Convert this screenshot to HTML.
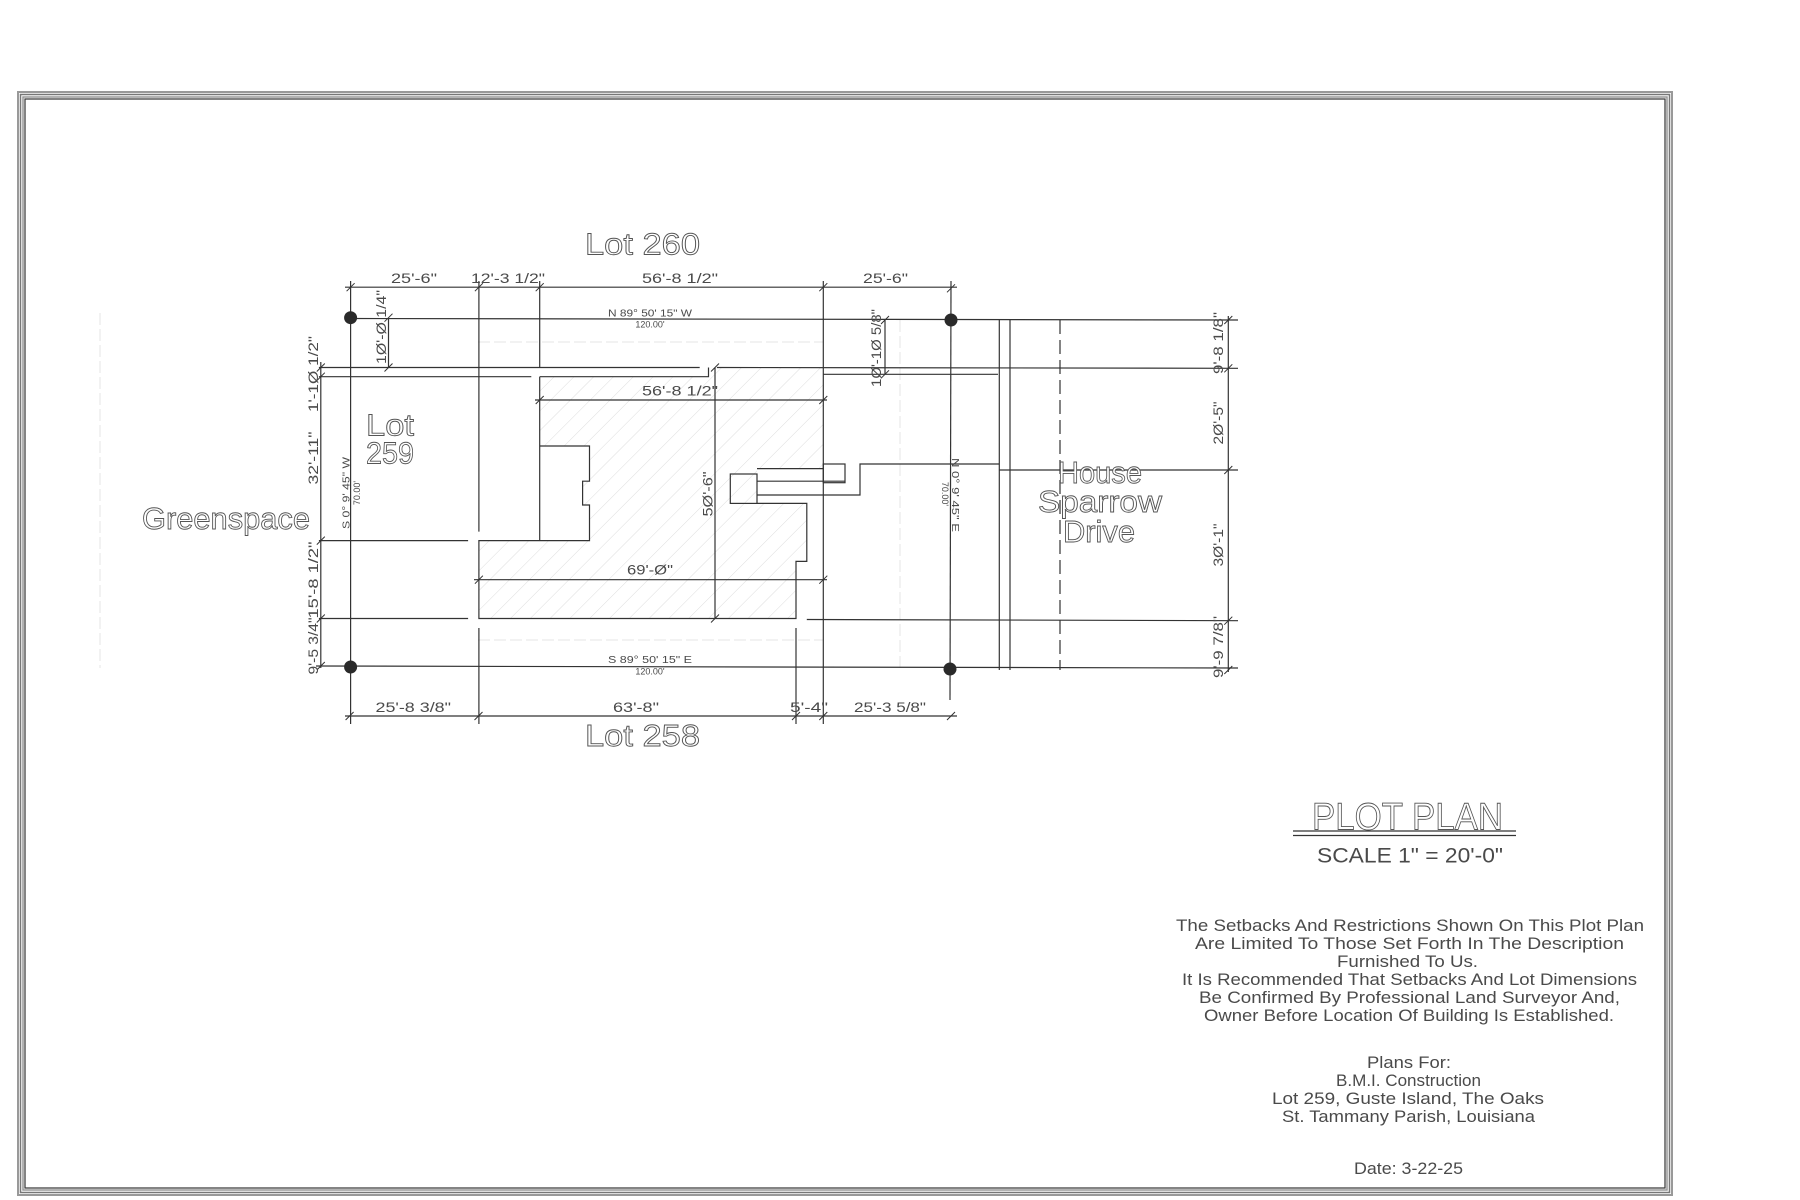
<!DOCTYPE html>
<html><head><meta charset="utf-8"><style>
html,body{margin:0;padding:0;background:#fff;}
svg{display:block;}
text{font-family:"Liberation Sans",sans-serif;fill:#4a4a4a;}
.big{fill:#fff;stroke:#555;stroke-width:0.9;}
</style></head><body>
<svg width="1800" height="1200" viewBox="0 0 1800 1200" xmlns="http://www.w3.org/2000/svg">
<defs>
<pattern id="hatch" width="14" height="14" patternUnits="userSpaceOnUse" patternTransform="rotate(45)">
<line x1="0" y1="0" x2="0" y2="14" stroke="#ddd" stroke-width="1"/>
</pattern>
</defs>
<!-- frame -->
<rect x="18" y="92" width="1654" height="1103" fill="none" stroke="#999" stroke-width="2"/>
<rect x="20.5" y="94.5" width="1649" height="1098" fill="none" stroke="#777" stroke-width="1.5"/>
<rect x="23" y="97" width="1644" height="1093" fill="none" stroke="#999" stroke-width="1.5"/>
<rect x="25" y="99" width="1640" height="1089" fill="none" stroke="#333" stroke-width="1.2"/>

<g stroke="#e4e4e4" stroke-width="1" fill="none" stroke-dasharray="12 4">
<line x1="100" y1="313" x2="100" y2="668"/>
<line x1="478" y1="342" x2="823" y2="342"/>
<line x1="478" y1="640" x2="823" y2="640"/>
<line x1="900" y1="320" x2="900" y2="668"/>
</g>

<polygon points="539.7,376.7 708.5,376.7 708.5,367.5 823.3,367.5 823.3,468.6 757,468.6 757,503.4 806.8,503.4 806.8,561.4 796,561.4 796,618.5 478.9,618.5 478.9,540.6 589.5,540.6 589.5,505 582.6,505 582.6,481.2 589.5,481.2 589.5,446 539.7,446" fill="url(#hatch)" stroke="none"/>

<g stroke="#333" stroke-width="1.2" fill="none">
<polyline points="539.7,376.7 708.5,376.7 708.5,367.5"/>
<polyline points="757,503.4 806.8,503.4 806.8,561.4 796,561.4 796,618.5 478.9,618.5 478.9,540.6 589.5,540.6 589.5,505 582.6,505 582.6,481.2 589.5,481.2 589.5,446 539.7,446"/>
<line x1="539.7" y1="376.7" x2="539.7" y2="540.6"/>
<rect x="730.3" y="474" width="26.7" height="29.4"/>
<line x1="757" y1="468.6" x2="823.3" y2="468.6"/>
<line x1="757" y1="481.2" x2="845" y2="481.2"/>
<rect x="823.3" y="464" width="21.7" height="18.7"/>
<polyline points="757,495 860,495 860,464 999,464"/>

<line x1="345" y1="287.2" x2="957" y2="287.2"/>
<line x1="350" y1="318.5" x2="1238" y2="320"/>
<line x1="318.9" y1="367.5" x2="699.7" y2="367.5"/>
<line x1="716.9" y1="367.5" x2="1238" y2="368.3"/>
<line x1="318.9" y1="376.7" x2="531.3" y2="376.7"/>
<line x1="823.3" y1="374.3" x2="998" y2="374.3"/>
<line x1="535" y1="400" x2="827" y2="400"/>
<line x1="999" y1="470" x2="1238" y2="470"/>
<line x1="318.9" y1="540.6" x2="468.1" y2="540.6"/>
<line x1="474" y1="579.7" x2="827" y2="579.7"/>
<line x1="318.9" y1="618.5" x2="468.1" y2="618.5"/>
<line x1="806.8" y1="619.5" x2="1238" y2="620.7"/>
<line x1="316" y1="666" x2="1238" y2="668"/>
<line x1="345" y1="716" x2="957" y2="716"/>

<line x1="350.6" y1="281" x2="350.6" y2="724"/>
<line x1="478.9" y1="281" x2="478.9" y2="531.6"/>
<line x1="478.9" y1="628" x2="478.9" y2="724"/>
<line x1="539.7" y1="281" x2="539.7" y2="367.5"/>
<line x1="823.3" y1="281" x2="823.3" y2="724"/>
<line x1="796" y1="628" x2="796" y2="724"/>
<line x1="715" y1="367.5" x2="715" y2="618.5"/>
<line x1="951" y1="281" x2="950" y2="700"/>
<line x1="388.5" y1="317.7" x2="388.5" y2="367.5"/>
<line x1="885" y1="320" x2="885" y2="374.3"/>
<line x1="320.8" y1="362" x2="320.8" y2="668"/>
<line x1="999.3" y1="320" x2="999.3" y2="670"/>
<line x1="1010" y1="320" x2="1010" y2="670"/>
<line x1="1228.3" y1="316" x2="1228.3" y2="672"/>
<line x1="1060" y1="320" x2="1060" y2="670" stroke-dasharray="14 6"/>

<g stroke-width="1">
<path d="M346.6,291.2L354.6,283.2M474.9,291.2L482.9,283.2M535.7,291.2L543.7,283.2M819.3,291.2L827.3,283.2M947,292.3L955,284.3"/>
<path d="M345.6,720L353.6,712M474.5,720L482.5,712M792,720L800,712M819.3,720L827.3,712M947,720L955,712"/>
<path d="M535.7,404L543.7,396M819.3,404L827.3,396M474.9,583.7L482.9,575.7M819.3,583.7L827.3,575.7"/>
<path d="M711,371.5L719,363.5M711,622.5L719,614.5"/>
<path d="M384.5,321.7L392.5,313.7M384.5,371.5L392.5,363.5M881,324L889,316M881,378.3L889,370.3"/>
<path d="M316.8,371.5L324.8,363.5M316.8,380.7L324.8,372.7M316.8,544.6L324.8,536.6M316.8,622.5L324.8,614.5M316.8,670L324.8,662"/>
<path d="M1224.3,324L1232.3,316M1224.3,372.3L1232.3,364.3M1224.3,474L1232.3,466M1224.3,624.7L1232.3,616.7M1224.3,674L1232.3,666"/>
</g>
</g>

<g fill="#2a2a2a">
<circle cx="350.6" cy="317.7" r="6.5"/>
<circle cx="951" cy="320" r="6.5"/>
<circle cx="350.6" cy="667" r="6.5"/>
<circle cx="950" cy="669" r="6.5"/>
</g>

<g font-size="31" class="big">
<text class="big" x="585" y="254.7" textLength="115" lengthAdjust="spacingAndGlyphs">Lot 260</text>
<text class="big" x="585" y="746" textLength="115" lengthAdjust="spacingAndGlyphs">Lot 258</text>
<text class="big" x="366" y="435.4" textLength="48" lengthAdjust="spacingAndGlyphs">Lot</text>
<text class="big" x="366" y="463.6" textLength="48" lengthAdjust="spacingAndGlyphs">259</text>
<text class="big" x="142" y="529" textLength="168" lengthAdjust="spacingAndGlyphs">Greenspace</text>
<text class="big" x="1058" y="483" textLength="84" lengthAdjust="spacingAndGlyphs">House</text>
<text class="big" x="1038" y="512" textLength="124" lengthAdjust="spacingAndGlyphs">Sparrow</text>
<text class="big" x="1063" y="542" textLength="72" lengthAdjust="spacingAndGlyphs">Drive</text>
</g>

<g font-size="14">
<text x="391" y="283" textLength="46" lengthAdjust="spacingAndGlyphs">25'-6"</text>
<text x="471" y="283" textLength="74" lengthAdjust="spacingAndGlyphs">12'-3 1/2"</text>
<text x="642" y="283" textLength="76" lengthAdjust="spacingAndGlyphs">56'-8 1/2"</text>
<text x="863" y="283" textLength="45" lengthAdjust="spacingAndGlyphs">25'-6"</text>
<text x="642" y="395.6" textLength="76" lengthAdjust="spacingAndGlyphs">56'-8 1/2"</text>
<text x="627" y="574.7" textLength="46" lengthAdjust="spacingAndGlyphs">69'-Ø"</text>
<text x="375.5" y="712" textLength="75.5" lengthAdjust="spacingAndGlyphs">25'-8 3/8"</text>
<text x="613" y="712" textLength="46" lengthAdjust="spacingAndGlyphs">63'-8"</text>
<text x="790" y="712" textLength="38" lengthAdjust="spacingAndGlyphs">5'-4"</text>
<text x="854" y="712" textLength="72" lengthAdjust="spacingAndGlyphs">25'-3 5/8"</text>
<g text-anchor="middle">
<text transform="translate(386,327) rotate(-90)" textLength="74" lengthAdjust="spacingAndGlyphs">1Ø'-Ø 1/4"</text>
<text transform="translate(712.5,494) rotate(-90)" textLength="45" lengthAdjust="spacingAndGlyphs">5Ø'-6"</text>
<text transform="translate(881,348) rotate(-90)" textLength="78" lengthAdjust="spacingAndGlyphs">1Ø'-1Ø 5/8"</text>
<text transform="translate(318,374) rotate(-90)" textLength="76" lengthAdjust="spacingAndGlyphs">1'-1Ø 1/2"</text>
<text transform="translate(318,458) rotate(-90)" textLength="53" lengthAdjust="spacingAndGlyphs">32'-11"</text>
<text transform="translate(318,580) rotate(-90)" textLength="77" lengthAdjust="spacingAndGlyphs">15'-8 1/2"</text>
<text transform="translate(318,646) rotate(-90)" textLength="57" lengthAdjust="spacingAndGlyphs">9'-5 3/4"</text>
<text transform="translate(1223,343) rotate(-90)" textLength="62" lengthAdjust="spacingAndGlyphs">9'-8 1/8"</text>
<text transform="translate(1223,423) rotate(-90)" textLength="43" lengthAdjust="spacingAndGlyphs">2Ø'-5"</text>
<text transform="translate(1223,545) rotate(-90)" textLength="43" lengthAdjust="spacingAndGlyphs">3Ø'-1"</text>
<text transform="translate(1223,647) rotate(-90)" textLength="62" lengthAdjust="spacingAndGlyphs">9'-9 7/8"</text>
</g>
</g>

<g font-size="10" text-anchor="middle">
<text x="650" y="316.7" textLength="84" lengthAdjust="spacingAndGlyphs">N 89° 50' 15" W</text>
<text x="650" y="327.7" font-size="9">120.00'</text>
<text x="650" y="663" textLength="84" lengthAdjust="spacingAndGlyphs">S 89° 50' 15" E</text>
<text x="650" y="674.6" font-size="9">120.00'</text>
<text transform="translate(349.5,493) rotate(-90)" textLength="72" lengthAdjust="spacingAndGlyphs">S 0° 9' 45" W</text>
<text transform="translate(360,493) rotate(-90)" font-size="9">70.00'</text>
<text transform="translate(952,495) rotate(90)" textLength="74" lengthAdjust="spacingAndGlyphs">N 0° 9' 45" E</text>
<text transform="translate(942,494) rotate(90)" font-size="9">70.00'</text>
</g>

<text class="big" x="1312" y="829.4" font-size="38" textLength="191" lengthAdjust="spacingAndGlyphs">PLOT   PLAN</text>
<line x1="1293" y1="831" x2="1516" y2="831" stroke="#333" stroke-width="1.2"/>
<line x1="1293" y1="835.5" x2="1516" y2="835.5" stroke="#333" stroke-width="1.2"/>
<text x="1317" y="862.5" font-size="21" textLength="186" lengthAdjust="spacingAndGlyphs">SCALE   1"  =  20'-0"</text>

<g font-size="17">
<text x="1176" y="931" textLength="468" lengthAdjust="spacingAndGlyphs">The Setbacks And Restrictions Shown On This Plot Plan</text>
<text x="1195" y="949" textLength="429" lengthAdjust="spacingAndGlyphs">Are Limited To Those Set Forth In The Description</text>
<text x="1337" y="967" textLength="141" lengthAdjust="spacingAndGlyphs">Furnished To Us.</text>
<text x="1182" y="985" textLength="455" lengthAdjust="spacingAndGlyphs">It Is Recommended That Setbacks And Lot Dimensions</text>
<text x="1199" y="1003" textLength="421" lengthAdjust="spacingAndGlyphs">Be Confirmed By Professional Land Surveyor And,</text>
<text x="1204" y="1021" textLength="410" lengthAdjust="spacingAndGlyphs">Owner Before Location Of Building Is Established.</text>
<text x="1367" y="1068" textLength="84" lengthAdjust="spacingAndGlyphs">Plans For:</text>
<text x="1336" y="1086" textLength="145" lengthAdjust="spacingAndGlyphs">B.M.I. Construction</text>
<text x="1272" y="1104" textLength="272" lengthAdjust="spacingAndGlyphs">Lot 259, Guste Island, The Oaks</text>
<text x="1282" y="1122" textLength="253" lengthAdjust="spacingAndGlyphs">St. Tammany Parish, Louisiana</text>
<text x="1354" y="1174" textLength="109" lengthAdjust="spacingAndGlyphs">Date: 3-22-25</text>
</g>
</svg>
</body></html>
